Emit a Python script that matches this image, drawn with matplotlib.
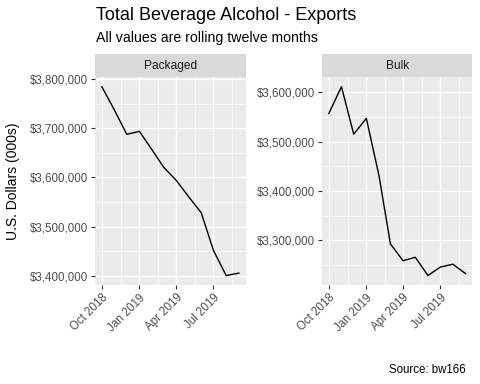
import matplotlib
matplotlib.use("Agg")
import matplotlib.pyplot as plt
import matplotlib.dates as mdates
from matplotlib.ticker import FuncFormatter, MultipleLocator, FixedLocator
import pandas as pd

# monthly rolling-twelve-month values, U.S. dollars (000s)
months = pd.date_range("2018-10-01", "2019-09-01", freq="MS")
packaged = [3785000, 3737000, 3688000, 3694000, 3656000, 3621000,
            3594000, 3561000, 3528000, 3451000, 3400000, 3405000]
bulk = [3557000, 3611000, 3515000, 3547000, 3431000, 3293000,
        3259000, 3266000, 3229000, 3246000, 3252000, 3233000]
panels = ["Packaged", "Bulk"]
series = [packaged, bulk]

major_dates = pd.to_datetime(["2018-10-01", "2019-01-01", "2019-04-01",
                              "2019-07-01", "2019-10-01"])

plt.rcParams["font.family"] = ["Liberation Sans", "DejaVu Sans"]

PANEL_BG = "#EBEBEB"
STRIP_BG = "#D9D9D9"
W, H = 480, 384

fig = plt.figure(figsize=(4.8, 3.84), dpi=100)


def px_box(x0, y0, x1, y1):
    return [x0 / W, 1 - y1 / H, (x1 - x0) / W, (y1 - y0) / H]


panel_x = [(95, 245.7), (322, 472.3)]
panel_top, panel_bot = 77.3, 285
strip_top = 54

dollar = FuncFormatter(lambda v, p: "${:,.0f}".format(v))
major_num = mdates.date2num(major_dates)
minor_num = [(a + b) / 2 for a, b in zip(major_num[:-1], major_num[1:])]

for (x0, x1), name, vals in zip(panel_x, panels, series):
    ax = fig.add_axes(px_box(x0, panel_top, x1, panel_bot))
    ax.set_facecolor(PANEL_BG)
    ax.plot(months, vals, color="black", linewidth=1.0)

    # ggplot-style 5% expansion on free scales
    lo, hi = min(vals), max(vals)
    pad = (hi - lo) * 0.05
    ax.set_ylim(lo - pad, hi + pad)
    xlo, xhi = mdates.date2num(months[0]), mdates.date2num(months[-1])
    xp = (xhi - xlo) * 0.05
    ax.set_xlim(xlo - xp, xhi + xp)

    ax.yaxis.set_major_locator(MultipleLocator(100000))
    ax.yaxis.set_minor_locator(MultipleLocator(50000))
    ax.yaxis.set_major_formatter(dollar)
    ax.xaxis.set_major_locator(FixedLocator(major_num))
    ax.xaxis.set_minor_locator(FixedLocator(minor_num))
    ax.xaxis.set_major_formatter(mdates.DateFormatter("%b %Y"))

    ax.grid(which="major", color="white", linewidth=1.0)
    ax.grid(which="minor", color="white", linewidth=0.5)
    ax.set_axisbelow(True)
    for s in ax.spines.values():
        s.set_visible(False)

    ax.tick_params(which="major", length=3, width=0.8, color="#333333",
                   labelsize=8.3, labelcolor="#4D4D4D", pad=2)
    ax.tick_params(which="minor", length=0)
    for lab in ax.get_xticklabels():
        lab.set_rotation(45)
        lab.set_ha("right")
        lab.set_va("top")
        lab.set_rotation_mode("anchor")

    sax = fig.add_axes(px_box(x0, strip_top, x1, panel_top))
    sax.set_facecolor(STRIP_BG)
    sax.set_xticks([])
    sax.set_yticks([])
    for s in sax.spines.values():
        s.set_visible(False)
    sax.text(0.5, 0.5, name, ha="center", va="center", fontsize=8.6,
             color="#1A1A1A", transform=sax.transAxes)

fig.text(96 / W, 1 - 20 / H, "Total Beverage Alcohol - Exports",
         fontsize=13.0, va="baseline", ha="left")
fig.text(96 / W, 1 - 42.3 / H, "All values are rolling twelve months",
         fontsize=10.2, va="baseline", ha="left")
fig.text(13 / W, 1 - (panel_top + panel_bot) / 2 / H, "U.S. Dollars (000s)",
         fontsize=10.0, rotation=90, ha="center", va="center")
fig.text(466 / W, 1 - 370 / H, "Source: bw166", fontsize=8.3,
         ha="right", va="center")

fig.savefig("out.png", dpi=100)
